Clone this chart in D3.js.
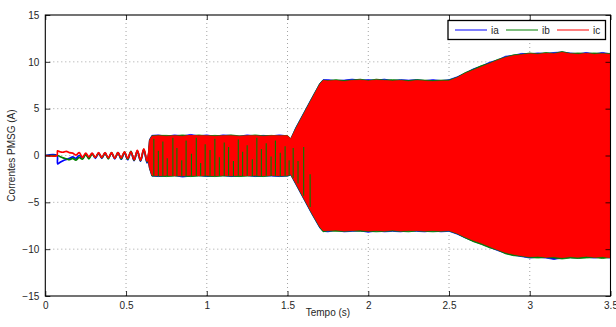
<!DOCTYPE html>
<html><head><meta charset="utf-8">
<script src="https://cdn.jsdelivr.net/npm/d3@7"></script>
<style>body{margin:0;background:#fff}svg{display:block}text{font-family:"Liberation Sans",Arial,Helvetica,sans-serif}</style>
</head><body><svg id="c" width="616" height="327"></svg>
<script>
// ---------- data ----------
const xTicks = [0, 0.5, 1, 1.5, 2, 2.5, 3, 3.5];
const xTickLabels = ["0", "0.5", "1", "1.5", "2", "2.5", "3", "3.5"];
const yTicks = [-15, -10, -5, 0, 5, 10, 15];
const yTickLabels = ["\u221215", "\u221210", "\u22125", "0", "5", "10", "15"];
const seriesNames = ["ia", "ib", "ic"];
const seriesColors = ["#0000ff", "#008000", "#ff0000"];

// early (transient) part: sampled values
const tEarly = [0, 0.072, 0.076, 0.09, 0.11, 0.13, 0.15, 0.17, 0.19, 0.21, 0.23, 0.25, 0.27, 0.29, 0.31, 0.33, 0.35, 0.37, 0.39, 0.41, 0.43, 0.45, 0.47, 0.49, 0.51, 0.53, 0.55, 0.57, 0.59, 0.61, 0.63, 0.64];
const iaEarly = [0, 0, -0.9, -0.75, -0.55, -0.42, -0.3, -0.15, -0.3, 0.0, -0.25, 0.1, -0.2, 0.2, -0.3, 0.25, -0.3, 0.25, -0.3, 0.25, -0.35, 0.3, -0.4, 0.3, -0.45, 0.4, -0.55, 0.45, -0.6, 0.6, -0.8, 0.1];
const ibEarly = [0, 0, 0, -0.1, -0.25, -0.35, -0.45, -0.3, -0.5, -0.2, -0.4, 0.1, -0.35, 0.15, -0.2, 0.25, -0.25, 0.25, -0.35, 0.3, -0.3, 0.3, -0.35, 0.35, -0.4, 0.45, -0.5, 0.5, -0.55, 0.65, -0.7, 0.2];
const icEarly = [0, 0, 0.5, 0.4, 0.35, 0.45, 0.3, 0.25, 0.05, 0.3, -0.2, 0.25, -0.15, 0.25, -0.2, 0.3, -0.2, 0.3, -0.25, 0.3, -0.3, 0.3, -0.25, 0.4, -0.3, 0.4, -0.45, 0.55, -0.5, 0.7, -0.6, 0.3];

// dense oscillation part: envelope (max / min) of each phase current
const tBand = [0.64, 0.645, 0.66, 0.7, 0.75, 0.8, 0.85, 0.9, 0.95, 1.0, 1.05, 1.1, 1.15, 1.2, 1.25, 1.3, 1.35, 1.4, 1.45, 1.5, 1.52, 1.55, 1.6, 1.65, 1.7, 1.72, 1.75, 1.8, 1.85, 1.9, 1.95, 2.0, 2.05, 2.1, 2.15, 2.2, 2.25, 2.3, 2.35, 2.4, 2.45, 2.5, 2.55, 2.6, 2.65, 2.7, 2.75, 2.8, 2.85, 2.9, 2.95, 3.0, 3.05, 3.1, 3.15, 3.2, 3.25, 3.3, 3.35, 3.4, 3.45, 3.5];
const iaMax = [0.75, 1.7, 2.15, 2.2, 2.05, 2.2, 2.1, 2.25, 2.1, 2.2, 2.05, 2.2, 2.15, 2.05, 2.2, 2.1, 2.15, 2.1, 2.2, 2.1, 1.8, 2.95, 4.55, 6.15, 7.7, 8.1, 8.1, 8.0, 8.05, 8.15, 8.05, 8.1, 8.05, 8.15, 8.0, 8.1, 8.05, 8.1, 8.0, 8.1, 8.0, 8.1, 8.4, 8.8, 9.25, 9.55, 9.95, 10.2, 10.6, 10.7, 10.9, 10.85, 10.95, 10.9, 11.0, 11.05, 10.95, 10.85, 11.0, 10.85, 11.0, 10.85];
const iaMin = [-0.9, -1.4, -2.2, -2.25, -2.2, -2.15, -2.3, -2.2, -2.15, -2.25, -2.2, -2.15, -2.25, -2.2, -2.15, -2.25, -2.2, -2.2, -2.25, -2.2, -2.1, -3.05, -4.65, -6.25, -7.75, -8.1, -8.15, -8.0, -8.15, -8.1, -8.05, -8.2, -8.05, -8.15, -8.1, -8.15, -8.05, -8.1, -8.15, -8.05, -8.15, -8.1, -8.4, -8.8, -9.15, -9.45, -9.8, -10.15, -10.45, -10.65, -10.8, -10.95, -10.85, -10.95, -11.1, -10.95, -10.9, -10.95, -10.85, -10.95, -10.85, -10.95];
const ibMax = [0.7, 1.65, 2.1, 2.15, 2.15, 2.1, 2.2, 2.1, 2.2, 2.1, 2.15, 2.1, 2.2, 2.1, 2.1, 2.2, 2.1, 2.15, 2.1, 2.15, 1.8, 2.9, 4.5, 6.1, 7.7, 8.05, 8.0, 8.1, 8.0, 8.05, 8.15, 8.0, 8.15, 8.05, 8.1, 8.05, 8.0, 8.1, 8.05, 8.0, 8.05, 8.05, 8.35, 8.85, 9.2, 9.6, 9.85, 10.25, 10.5, 10.75, 10.8, 10.95, 10.85, 11.0, 10.9, 11.1, 10.9, 10.95, 10.9, 10.95, 10.9, 10.9];
const ibMin = [-0.85, -1.35, -2.2, -2.2, -2.25, -2.2, -2.2, -2.25, -2.2, -2.2, -2.25, -2.2, -2.2, -2.25, -2.2, -2.2, -2.25, -2.15, -2.2, -2.2, -2.05, -3.0, -4.6, -6.2, -7.7, -8.15, -8.05, -8.1, -8.1, -8.05, -8.1, -8.1, -8.15, -8.1, -8.05, -8.1, -8.15, -8.05, -8.1, -8.15, -8.1, -8.05, -8.35, -8.8, -9.2, -9.5, -9.85, -10.1, -10.5, -10.7, -10.75, -10.9, -10.95, -10.9, -10.95, -11.05, -10.95, -11.0, -10.95, -10.9, -11.0, -10.9];
const icMax = [0.7, 1.6, 2.05, 2.1, 2.05, 2.1, 2.05, 2.15, 2.1, 2.1, 2.05, 2.1, 2.1, 2.05, 2.1, 2.1, 2.05, 2.1, 2.1, 2.1, 1.75, 2.8, 4.4, 6.0, 7.6, 8.0, 7.95, 8.0, 7.9, 8.0, 8.05, 7.95, 8.05, 8.0, 7.95, 8.0, 7.9, 8.0, 7.95, 7.9, 7.95, 7.95, 8.3, 8.75, 9.1, 9.45, 9.8, 10.15, 10.45, 10.65, 10.75, 10.85, 10.8, 10.9, 10.85, 11.0, 10.85, 10.8, 10.9, 10.8, 10.85, 10.8];
const icMin = [-0.8, -1.3, -2.1, -2.15, -2.1, -2.15, -2.15, -2.1, -2.15, -2.1, -2.15, -2.1, -2.15, -2.1, -2.15, -2.1, -2.15, -2.1, -2.15, -2.1, -2.0, -2.9, -4.5, -6.1, -7.6, -8.0, -8.0, -7.95, -8.05, -8.0, -7.95, -8.05, -8.0, -8.05, -7.95, -8.05, -8.0, -8.0, -8.05, -8.0, -8.05, -8.0, -8.3, -8.7, -9.05, -9.35, -9.7, -10.05, -10.35, -10.55, -10.7, -10.8, -10.75, -10.85, -10.8, -10.9, -10.8, -10.85, -10.75, -10.85, -10.8, -10.9];

// visible ib (green) peaks poking through the red band
const ibStreakT  = [0.672, 0.70, 0.728, 0.755, 0.79, 0.815, 0.845, 0.872, 0.905, 0.935, 0.962, 0.99, 1.02, 1.05, 1.078, 1.108, 1.135, 1.165, 1.195, 1.222, 1.25, 1.282, 1.31, 1.338, 1.368, 1.398, 1.425, 1.455, 1.485, 1.51, 1.535, 1.565, 1.6, 1.64];
const ibStreakLo = [-2.15, -2.2, -2.15, -2.2, -2.15, -2.2, -2.15, -2.2, -2.15, -2.2, -2.15, -2.2, -2.15, -2.2, -2.15, -2.2, -2.15, -2.2, -2.15, -2.2, -2.15, -2.2, -2.15, -2.2, -2.15, -2.2, -2.15, -2.2, -2.15, -2.05, -2.4, -3.0, -4.3, -5.5];
const ibStreakHi = [1.8, 0.5, 1.5, -0.3, 1.9, 0.8, -0.5, 1.6, 0.2, 1.9, -0.8, 1.2, 0.6, 1.8, -0.2, 1.4, 0.9, -0.6, 1.7, 0.4, 1.1, -0.4, 1.9, 0.7, 1.3, -0.1, 1.6, 0.3, 1.0, -0.5, 0.8, -0.6, 0.9, -2.0];

// ---------- layout ----------
const svg = d3.select("#c");
const L = 45.3, R = 610.5, T = 15, B = 296;
const x = d3.scaleLinear().domain([0, 3.5]).range([L, R]);
const y = d3.scaleLinear().domain([-15, 15]).range([B, T]);

svg.append("rect").attr("width", 616).attr("height", 327).attr("fill", "#fff");
svg.append("defs").append("clipPath").attr("id", "clip")
  .append("rect").attr("x", L).attr("y", T).attr("width", R - L).attr("height", B - T);

// grid
const grid = svg.append("g").attr("stroke", "#8c8c8c").attr("stroke-width", 0.8).attr("stroke-dasharray", "1,3");
xTicks.slice(1, -1).forEach(v => grid.append("line").attr("x1", x(v)).attr("x2", x(v)).attr("y1", T).attr("y2", B));
yTicks.slice(1, -1).forEach(v => grid.append("line").attr("x1", L).attr("x2", R).attr("y1", y(v)).attr("y2", y(v)));

// data
const plot = svg.append("g").attr("clip-path", "url(#clip)");
const earlySeries = [iaEarly, ibEarly, icEarly];
const bandSeries = [[iaMax, iaMin], [ibMax, ibMin], [icMax, icMin]];
const area = d3.area().x(d => x(d[0])).y0(d => y(d[2])).y1(d => y(d[1]));
const line = d3.line().x(d => x(d[0])).y(d => y(d[1])).curve(d3.curveCatmullRom);

seriesNames.forEach((name, k) => {
  const ed = tEarly.map((t, i) => [t, earlySeries[k][i]]);
  plot.append("path").attr("d", line(ed)).attr("fill", "none")
    .attr("stroke", seriesColors[k]).attr("stroke-width", 1.7).attr("stroke-linejoin", "round");
  const bd = tBand.map((t, i) => [t, bandSeries[k][0][i], bandSeries[k][1][i]]);
  plot.append("path").attr("d", area(bd)).attr("fill", seriesColors[k])
    .attr("stroke", seriesColors[k]).attr("stroke-width", 0.8);
});
// green streaks on top of red band
plot.append("g").attr("stroke", seriesColors[1]).attr("stroke-width", 1.1)
  .selectAll("line").data(ibStreakT).join("line")
  .attr("x1", d => x(d)).attr("x2", d => x(d))
  .attr("y1", (d, i) => y(ibStreakLo[i])).attr("y2", (d, i) => y(ibStreakHi[i]));

// axes (ticks inward on all four sides)
const fs = 10;
const ax = svg.append("g").attr("transform", `translate(0,${B})`)
  .call(d3.axisBottom(x).tickValues(xTicks).tickFormat((d, i) => xTickLabels[i]).tickSizeInner(-5).tickSizeOuter(0).tickPadding(5.5));
const ay = svg.append("g").attr("transform", `translate(${L},0)`)
  .call(d3.axisLeft(y).tickValues(yTicks).tickFormat((d, i) => yTickLabels[i]).tickSizeInner(-5).tickSizeOuter(0).tickPadding(6));
const at = svg.append("g").attr("transform", `translate(0,${T})`)
  .call(d3.axisTop(x).tickValues(xTicks).tickFormat("").tickSizeInner(-5).tickSizeOuter(0));
const ar = svg.append("g").attr("transform", `translate(${R},0)`)
  .call(d3.axisRight(y).tickValues(yTicks).tickFormat("").tickSizeInner(-5).tickSizeOuter(0));
[ax, ay, at, ar].forEach(g => {
  g.select(".domain").remove();
  g.selectAll("line").attr("stroke", "#000").attr("stroke-width", 0.8);
  g.selectAll("text").attr("font-size", fs).attr("fill", "#262626")
    .attr("font-family", '"Liberation Sans",Arial,Helvetica,sans-serif');
});
svg.append("rect").attr("x", L).attr("y", T).attr("width", R - L).attr("height", B - T)
  .attr("fill", "none").attr("stroke", "#000").attr("stroke-width", 1.1);

// axis titles
svg.append("text").attr("x", (L + R) / 2).attr("y", 316).attr("text-anchor", "middle")
  .attr("font-size", fs).attr("fill", "#262626").text("Tempo (s)");
svg.append("text").attr("transform", `translate(15,${(T + B) / 2}) rotate(-90)`).attr("text-anchor", "middle")
  .attr("font-size", fs).attr("fill", "#262626").text("Correntes PMSG (A)");

// legend
const lg = svg.append("g");
lg.append("rect").attr("x", 448).attr("y", 20.5).attr("width", 157.5).attr("height", 19)
  .attr("fill", "#fff").attr("stroke", "#000").attr("stroke-width", 1.3);
const lx = [455, 506, 557];
const tx = [491, 542, 593];
seriesNames.forEach((n, k) => {
  lg.append("line").attr("x1", lx[k]).attr("x2", lx[k] + 32).attr("y1", 30).attr("y2", 30)
    .attr("stroke", seriesColors[k]).attr("stroke-width", 1);
  lg.append("text").attr("x", tx[k]).attr("y", 33.8).attr("font-size", fs).attr("fill", "#262626").text(n);
});
</script></body></html>
